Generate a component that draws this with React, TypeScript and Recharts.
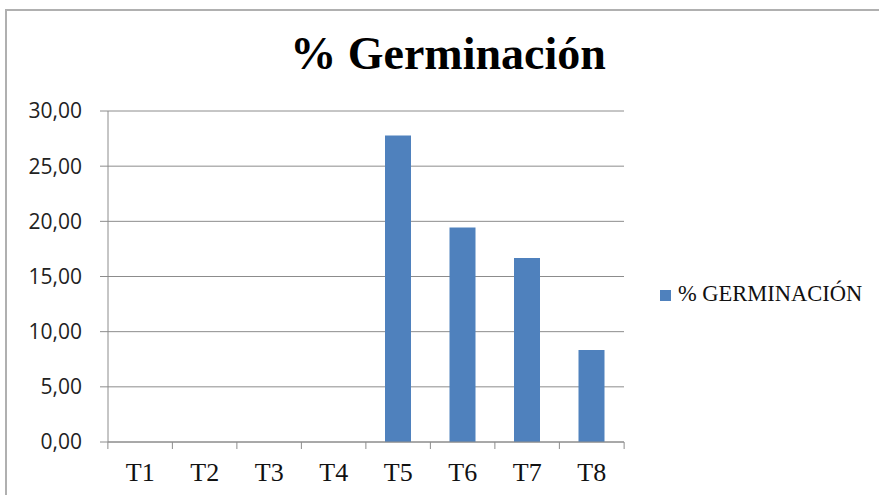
import { Bar, BarChart, CartesianGrid, Legend, XAxis, YAxis } from "recharts";

const CATEGORIES = ["T1", "T2", "T3", "T4", "T5", "T6", "T7", "T8"];
const GERMINACION = [0, 0, 0, 0, 27.78, 19.44, 16.67, 8.33];
const Y_TICKS = [0, 5, 10, 15, 20, 25, 30];

const data = CATEGORIES.map((t, i) => ({ name: t, value: GERMINACION[i] }));

const GRID = "#8c8c8c";
const BAR = "#4F81BD";
const SERIF = "'Liberation Serif', 'DejaVu Serif', serif";
const PLOT_W = 518;
const BAND = PLOT_W / CATEGORIES.length;

function XTick(props: any) {
  const { x, y, payload, index } = props;
  const left = x - BAND / 2;
  return (
    <g>
      <line x1={left} y1={y - 8} x2={left} y2={y - 1} stroke={GRID} />
      {index === CATEGORIES.length - 1 && (
        <line x1={left + BAND} y1={y - 8} x2={left + BAND} y2={y - 1} stroke={GRID} />
      )}
      <text x={x} y={y + 31} textAnchor="middle" fontFamily={SERIF} fontSize={26} fill="#111">
        {payload.value}
      </text>
    </g>
  );
}

export default function App() {
  return (
    <div style={{ position: "absolute", left: 0, top: 0, width: 879, height: 495, background: "#fff", overflow: "hidden" }}>
      <div style={{ position: "absolute", left: 5, top: 9, right: -4, bottom: -4, borderLeft: "2px solid #b0b0b0", borderTop: "2px solid #b0b0b0" }} />
      <div
        style={{
          position: "absolute",
          left: 0,
          width: 896,
          top: 27,
          textAlign: "center",
          fontFamily: SERIF,
          fontWeight: "bold",
          fontSize: 46,
          color: "#000",
        }}
      >
        % Germinación
      </div>
      <div style={{ position: "absolute", left: 0, top: 0 }}>
        <BarChart width={879} height={495} data={data} margin={{ top: 111, right: 35, bottom: 0, left: 0 }} barSize={26}>
          <CartesianGrid vertical={false} stroke={GRID} strokeWidth={1} />
          <XAxis
            dataKey="name"
            height={53}
            stroke={GRID}
            tickLine={false}
            tick={<XTick />}
            interval={0}
          />
          <YAxis
            width={108}
            domain={[0, 30]}
            ticks={Y_TICKS}
            stroke={GRID}
            tickSize={8}
            tickMargin={18}
            tickFormatter={(v: number) => v.toFixed(2).replace(".", ",")}
            tick={{ fill: "#222", fontFamily: "'Open Sans', sans-serif", fontSize: 21 }}
          />
          <Bar dataKey="value" name="% GERMINACIÓN" fill={BAR} isAnimationActive={false} />
          <Legend
            layout="vertical"
            align="right"
            verticalAlign="top"
            iconType="square"
            iconSize={11}
            wrapperStyle={{ position: "absolute", left: 660, top: 281, width: 220, fontFamily: SERIF, fontSize: 22.5 }}
            formatter={(v: string) => <span style={{ color: "#111", marginLeft: 3 }}>{v}</span>}
          />
        </BarChart>
      </div>
    </div>
  );
}
